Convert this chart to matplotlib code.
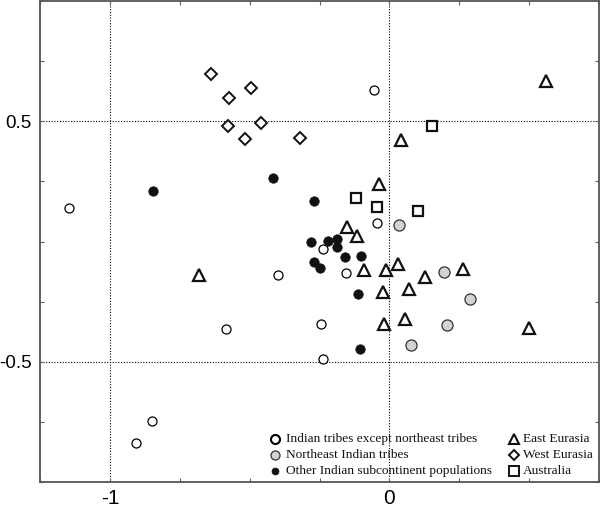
import matplotlib
matplotlib.use("Agg")
import matplotlib.pyplot as plt
import numpy as np

# Indian tribes except northeast tribes (open circles)
ind_x = [-1.146, -0.054, -0.043, -0.239, -0.399, -0.154, -0.245, -0.237, -0.583, -0.851, -0.905]
ind_y = [0.138, 0.631, 0.076, -0.030, -0.140, -0.131, -0.343, -0.488, -0.362, -0.745, -0.836]

# Northeast Indian tribes (gray circles)
ne_x = [0.036, 0.195, 0.288, 0.205, 0.076]
ne_y = [0.070, -0.127, -0.240, -0.348, -0.430]

# Other Indian subcontinent populations (filled circles)
oth_x = [-0.844, -0.415, -0.268, -0.281, -0.220, -0.189, -0.187, -0.157, -0.101, -0.270, -0.249, -0.112, -0.104]
oth_y = [0.209, 0.263, 0.169, -0.001, 0.001, 0.011, -0.023, -0.063, -0.059, -0.087, -0.110, -0.220, -0.448]

# East Eurasia (triangles)
ee_x = [0.561, 0.042, -0.036, -0.152, -0.115, -0.680, -0.089, -0.013, 0.030, 0.129, 0.262, -0.024, 0.069, -0.018, 0.057, 0.501]
ee_y = [0.668, 0.424, 0.238, 0.059, 0.021, -0.140, -0.117, -0.120, -0.092, -0.147, -0.113, -0.209, -0.198, -0.344, -0.322, -0.361]

# West Eurasia (diamonds)
we_x = [-0.639, -0.574, -0.496, -0.576, -0.461, -0.518, -0.318]
we_y = [0.695, 0.596, 0.639, 0.481, 0.492, 0.427, 0.430]

# Australia (squares)
au_x = [0.152, -0.121, -0.044, 0.101]
au_y = [0.479, 0.179, 0.142, 0.128]

tick_vals = [-1.25, -1.0, -0.75, -0.5, -0.25, 0.0, 0.25, 0.5, 0.75, 1.0]
xlabels_shown = {-1.0: "-1", 0.0: "0"}
ylabels_shown = {0.5: "0.5", -0.5: "-0.5"}

legend_left = ["Indian tribes except northeast tribes", "Northeast Indian tribes",
               "Other Indian subcontinent populations"]
legend_right = ["East Eurasia", "West Eurasia", "Australia"]

fig = plt.figure(figsize=(6.0, 5.09), dpi=100)
ax = fig.add_axes([40/600, 27/509, 559/600, 481/509])
ax.set_xlim(-1.25, 0.75)
ax.set_ylim(-1.0, 1.0)

for xv in xlabels_shown:
    ax.axvline(xv, color="black", ls=(0, (1, 1.5)), lw=0.8, zorder=0)
for yv in ylabels_shown:
    ax.axhline(yv, color="black", ls=(0, (1, 1.5)), lw=0.8, zorder=0)

st_ind = dict(marker="o", ms=6.5, mfc="white", mec="black", mew=0.9)
st_ne = dict(marker="o", ms=8, mfc="#d3d3d3", mec="#333333", mew=0.9)
st_oth = dict(marker="o", ms=6.8, mfc="#111111", mec="#111111", mew=0.5)
st_ee = dict(marker="^", ms=9, mfc="white", mec="#111111", mew=1.6)
st_we = dict(marker="D", ms=6.5, mfc="white", mec="#111111", mew=1.4)
st_au = dict(marker="s", ms=7.5, mfc="white", mec="#111111", mew=1.6)

ax.plot(ind_x, ind_y, ls="none", **st_ind)
ax.plot(ne_x, ne_y, ls="none", **st_ne)
ax.plot(oth_x, oth_y, ls="none", **st_oth)
ax.plot(ee_x, ee_y, ls="none", **st_ee)
ax.plot(we_x, we_y, ls="none", **st_we)
ax.plot(au_x, au_y, ls="none", **st_au)

xt = [t for t in tick_vals if -1.25 <= t <= 0.75]
yt = [t for t in tick_vals if -1.0 <= t <= 1.0]
ax.set_xticks(xt)
ax.set_xticklabels([xlabels_shown.get(t, "") for t in xt], family="Liberation Sans", fontsize=15)
ax.set_yticks(yt)
ax.set_yticklabels([ylabels_shown.get(t, "") for t in yt], family="Liberation Sans", fontsize=13.5)
ax.tick_params(direction="in", length=3, width=0.8, color="#666666",
               top=True, right=True)
ax.tick_params(axis="x", pad=5)
ax.tick_params(axis="y", pad=6)
for sp in ax.spines.values():
    sp.set_color("#555555")
    sp.set_linewidth(1.3)

# legend drawn as keys + text in axes coordinates
def fx(px):
    return (px - 40) / 559

def fy(py):
    return (482 - py) / 481

rows = [439.3, 455.0, 470.7]
serif = dict(family="Liberation Serif", fontsize=9.6, color="#111111", va="center", ha="left")
key_left = [dict(marker="o", ms=6.5, mfc="white", mec="black", mew=1.5),
            dict(marker="o", ms=6.5, mfc="#d3d3d3", mec="#333333", mew=0.9),
            dict(marker="o", ms=5, mfc="#111111", mec="#111111", mew=0.5)]
key_right = [dict(marker="^", ms=7.5, mfc="white", mec="#111111", mew=1.5),
             dict(marker="D", ms=5.5, mfc="white", mec="#111111", mew=1.4),
             dict(marker="s", ms=6.5, mfc="white", mec="#111111", mew=1.4)]
for r, lab, k in zip(rows, legend_left, key_left):
    ax.plot([fx(275)], [fy(r)], transform=ax.transAxes, clip_on=False, ls="none", **k)
    ax.text(fx(286.5), fy(r), lab, transform=ax.transAxes, **serif)
for r, lab, k in zip(rows, legend_right, key_right):
    ax.plot([fx(514)], [fy(r)], transform=ax.transAxes, clip_on=False, ls="none", **k)
    ax.text(fx(523), fy(r), lab, transform=ax.transAxes, **serif)

fig.savefig("out.png", dpi=100)
